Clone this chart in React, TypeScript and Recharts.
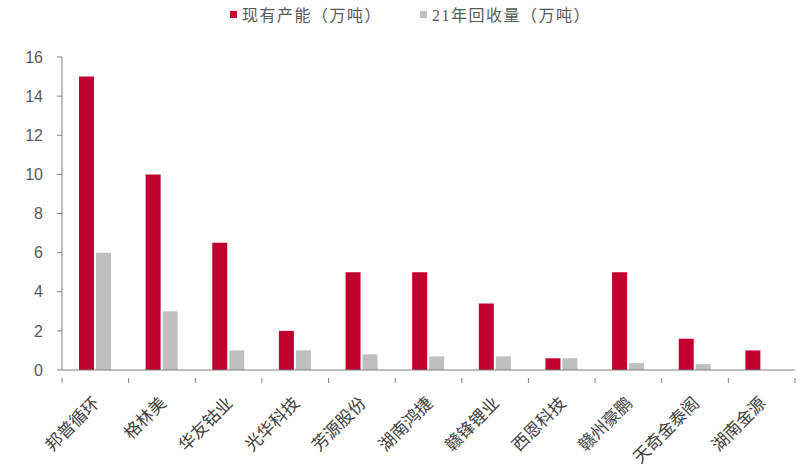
import { BarChart, Bar, XAxis, YAxis } from "recharts";

const companies = ["邦普循环", "格林美", "华友钴业", "光华科技", "芳源股份", "湖南鸿捷", "赣锋锂业", "西恩科技", "赣州豪鹏", "天奇金泰阁", "湖南金源"];
const capacity = [15, 10, 6.5, 2, 5, 5, 3.4, 0.6, 5, 1.6, 1];
const recycled21 = [6, 3, 1, 1, 0.8, 0.7, 0.7, 0.6, 0.35, 0.3, 0];
const yTicks = [0, 2, 4, 6, 8, 10, 12, 14, 16];

const RED = "#C0002F";
const GRAY = "#BFBFBF";
const TEXT = "#595959";
const AXIS = "#7F7F7F";

const data = companies.map((name, i) => ({ name, capacity: capacity[i], recycled: recycled21[i] }));

// category label + tick marks on the category boundaries (Excel style)
function CatTick({ x, y, payload, width, visibleTicksCount, index }: any) {
  const half = width / visibleTicksCount / 2;
  return (
    <g>
      {index === 0 && <line x1={x - half} y1={y} x2={x - half} y2={y + 5} stroke={AXIS} />}
      <line x1={x + half} y1={y} x2={x + half} y2={y + 5} stroke={AXIS} />
      <text
        transform={`translate(${x + 1},${y + 22}) rotate(-45)`}
        textAnchor="end"
        dy="0.35em"
        fontSize={17}
        fill="#404040"
        fontFamily="'Noto Sans CJK SC', sans-serif"
      >
        {payload.value}
      </text>
    </g>
  );
}

function LegendBox() {
  const item = (color: string, label: string, mr: number) => (
    <span style={{ display: "inline-flex", alignItems: "center", marginRight: mr }}>
      <span style={{ width: 7, height: 7, background: color, marginRight: 5, display: "inline-block" }} />
      <span>{label}</span>
    </span>
  );
  return (
    <div
      style={{
        position: "absolute",
        top: 2,
        left: 230,
        whiteSpace: "nowrap",
        fontSize: 16,
        color: TEXT,
        fontFamily: "'Liberation Serif', 'Noto Sans CJK SC', serif",
        letterSpacing: 1.5,
      }}
    >
      {item(RED, "现有产能（万吨）", 38)}
      {item(GRAY, "21年回收量（万吨）", 0)}
    </div>
  );
}

export default function App() {
  return (
    <div style={{ position: "absolute", left: 0, top: 0, width: 800, height: 469, background: "#fff" }}>
      <BarChart width={800} height={469} data={data} margin={{ top: 57, right: 5, bottom: 0, left: 0 }} barGap={2}>
        <XAxis
          dataKey="name"
          height={99}
          axisLine={{ stroke: AXIS }}
          tickLine={false}
          interval={0}
          tick={<CatTick />}
        />
        <YAxis
          width={62}
          domain={[0, 16]}
          ticks={yTicks}
          tickSize={5}
          tickMargin={14}
          axisLine={{ stroke: AXIS }}
          tickLine={{ stroke: AXIS }}
          tick={{ fontSize: 16, fill: TEXT, fontFamily: "'Liberation Sans', Arial, sans-serif" }}
        />
        <Bar dataKey="capacity" name="现有产能（万吨）" fill={RED} barSize={15} isAnimationActive={false} />
        <Bar dataKey="recycled" name="21年回收量（万吨）" fill={GRAY} barSize={15} isAnimationActive={false} />
      </BarChart>
      <LegendBox />
    </div>
  );
}
